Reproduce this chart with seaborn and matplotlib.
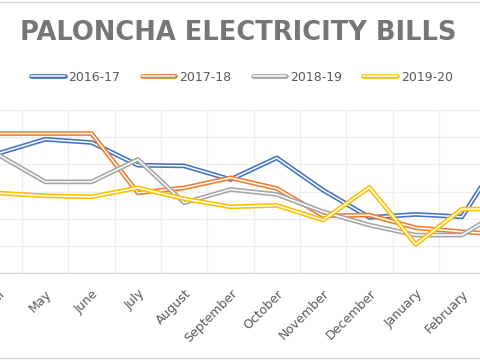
import numpy as np
import pandas as pd
import seaborn as sns
import matplotlib.pyplot as plt
from matplotlib.lines import Line2D
from matplotlib.legend_handler import HandlerTuple

months = ['April', 'May', 'June', 'July', 'August', 'September', 'October',
          'November', 'December', 'January', 'February', 'March']
years = ['2016-17', '2017-18', '2018-19', '2019-20']
bill_1617 = [2207, 2463, 2403, 1987, 1974, 1725, 2121, 1529, 1029, 1084, 1040, 2363]
bill_1718 = [2568, 2568, 2568, 1480, 1571, 1755, 1560, 1059, 1071, 839, 766, 705]
bill_1819 = [2170, 1681, 1681, 2092, 1297, 1542, 1451, 1132, 888, 705, 705, 1218]
bill_1920 = [1474, 1425, 1407, 1571, 1370, 1223, 1249, 980, 1579, 535, 1181, 1181]
colors = ['#4472C4', '#ED7D31', '#A5A5A5', '#FFC000']

sns.set_style('white')
plt.rcParams['font.family'] = ['DejaVu Sans']

fig = plt.figure(figsize=(4.8, 3.6), dpi=100)
ax = fig.add_axes([-24.15/480, 0.2403, 555.6/480, 0.4542])

# excel "double" line: thick coloured stroke with a thin white core
outer, inner = 3.4, 1.1
series = [bill_1617, bill_1718, bill_1819, bill_1920]
handles = []
for i, (yr, vals, c) in enumerate(zip(years, series, colors)):
    df = pd.DataFrame({'month': months, 'bill': vals})
    sns.lineplot(data=df, x='month', y='bill', sort=False, color=c, lw=outer, ax=ax, zorder=3+2*i)
    sns.lineplot(data=df, x='month', y='bill', sort=False, color='white', lw=inner, ax=ax, zorder=4+2*i)
    handles.append((Line2D([], [], color=c, lw=outer), Line2D([], [], color='white', lw=inner)))

ax.set_xlim(-0.5, 11.5)
ax.set_ylim(0, 3000)
ax.set_yticks(np.arange(0, 3001, 500))
ax.set_xticks(range(12))
ax.set_xticks(np.arange(-0.5, 12, 1), minor=True)
ax.grid(True, which='minor', axis='x', color='#efefef', lw=1)
ax.grid(True, which='major', axis='y', color='#efefef', lw=1)
ax.tick_params(axis='x', which='both', length=0, pad=10, labelsize=9, labelcolor='#595959')
ax.tick_params(axis='y', length=0, labelleft=False)
for lab in ax.get_xticklabels():
    lab.set_rotation(45)
    lab.set_ha('right')
    lab.set_rotation_mode('anchor')
ax.set_xlabel('')
ax.set_ylabel('')
for s in ['top', 'left', 'right']:
    ax.spines[s].set_visible(False)
ax.spines['bottom'].set_color('#d9d9d9')
ax.set_axisbelow(True)

fig.text(0.497, 0.908, 'PALONCHA ELECTRICITY BILLS', ha='center', va='center',
         fontsize=18.5, fontweight='bold', color='#767676')
fig.legend(handles, years, handler_map={tuple: HandlerTuple(ndivide=1)},
           loc='center', bbox_to_anchor=(0.504, 0.786), ncol=4, frameon=False,
           fontsize=9, handlelength=2.7, handletextpad=0.3, columnspacing=1.7,
           labelcolor='#595959')

fig.add_artist(Line2D([0, 1], [1 - 1.5/360, 1 - 1.5/360], color='#d9d9d9', lw=1))
fig.add_artist(Line2D([0, 1], [2/360, 2/360], color='#d9d9d9', lw=1))

fig.savefig('out.png', dpi=100)
